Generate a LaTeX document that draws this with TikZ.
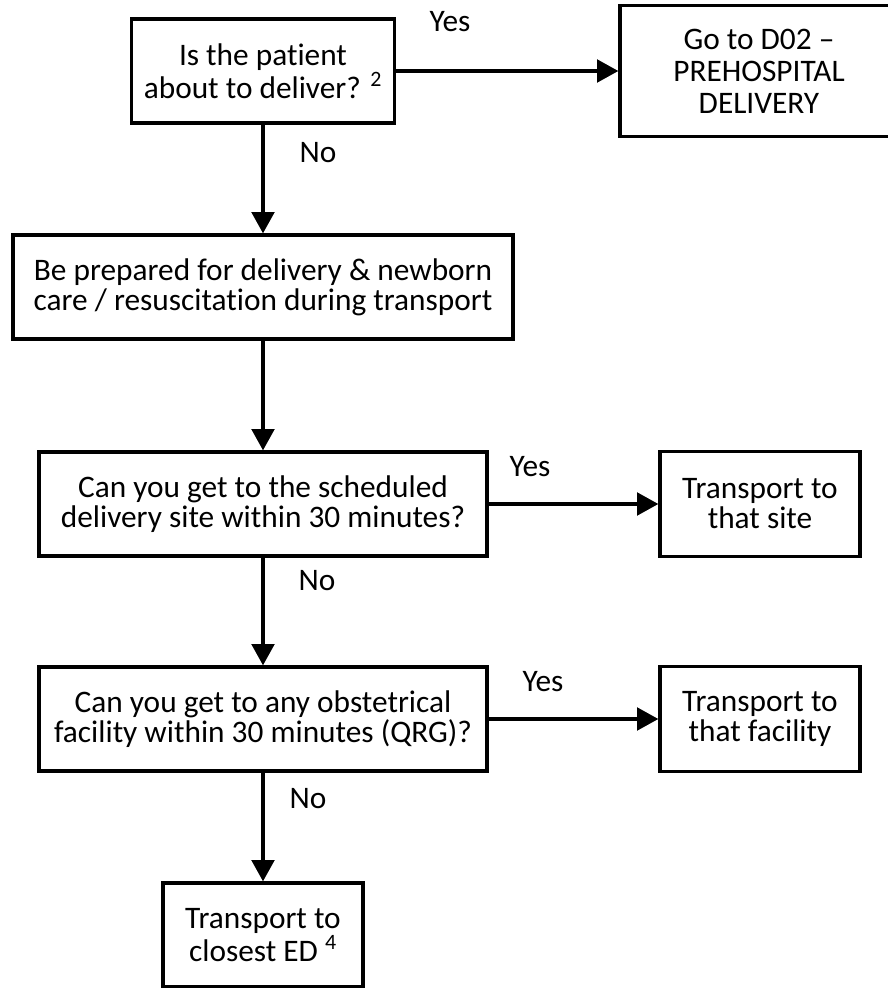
\documentclass[tikz,border=0pt]{standalone}
\usepackage{fontspec}
\setmainfont{Carlito}[Ligatures={TeX,NoCommon}]
\usetikzlibrary{arrows.meta}

\begin{document}
\begin{tikzpicture}[x=0.75pt, y=-0.75pt,
        box/.style={draw, line width=2.5pt, align=center, inner sep=0pt,
            font=\fontsize{23.5}{22.5}\selectfont},
        arr/.style={line width=2.5pt, -{Triangle[length=16pt, width=17pt]}},
        lbl/.style={font=\fontsize{23.5}{22.5}\selectfont}]
        \useasboundingbox (0, 0) rectangle (888, 988);

        % Questions on the left column
        \node[box, minimum width=197pt, minimum height=78pt] (deliver) at (263, 71) {Is the patient\\about to deliver? \textsuperscript{2}};
        \node[box, minimum width=375pt, minimum height=78pt] (prepare) at (263, 287) {Be prepared for delivery \& newborn\\care / resuscitation during transport};
        \node[box, minimum width=336pt, minimum height=78pt] (sched) at (263, 504) {Can you get to the scheduled\\delivery site within 30 minutes?};
        \node[box, minimum width=336pt, minimum height=78pt] (obst) at (263, 719) {Can you get to any obstetrical\\facility within 30 minutes (QRG)?};
        \node[box, minimum width=150pt, minimum height=78pt] (closest) at (263, 935) {Transport to\\closest ED \textsuperscript{4}};

        % Outcomes on the right column
        \node[box, minimum width=208.5pt, minimum height=98pt, font=\fontsize{23.5}{24}\selectfont] (prehosp) at (759, 71) {Go to D02 --\\PREHOSPITAL\\DELIVERY};
        \node[box, minimum width=150pt, minimum height=78.5pt] (site) at (760, 504) {Transport to\\that site};
        \node[box, minimum width=150pt, minimum height=78.5pt] (facility) at (760, 719) {Transport to\\that facility};

        \draw[arr] (deliver) -- (prehosp);
        \draw[arr] (deliver.south) -- (prepare.north);
        \draw[arr] (prepare.south) -- (sched.north);
        \draw[arr] (sched) -- (site);
        \draw[arr] (sched.south) -- (obst.north);
        \draw[arr] (obst) -- (facility);
        \draw[arr] (obst.south) -- (closest.north);

        \node[lbl] (y1) at (450, 22) {Yes};
        \node[lbl] (n1) at (318, 153) {No};
        \node[lbl] (y2) at (530, 467) {Yes};
        \node[lbl] (n2) at (317, 581) {No};
        \node[lbl] (y3) at (543, 682) {Yes};
        \node[lbl] (n3) at (308, 799) {No};

    \end{tikzpicture}
\end{document}
